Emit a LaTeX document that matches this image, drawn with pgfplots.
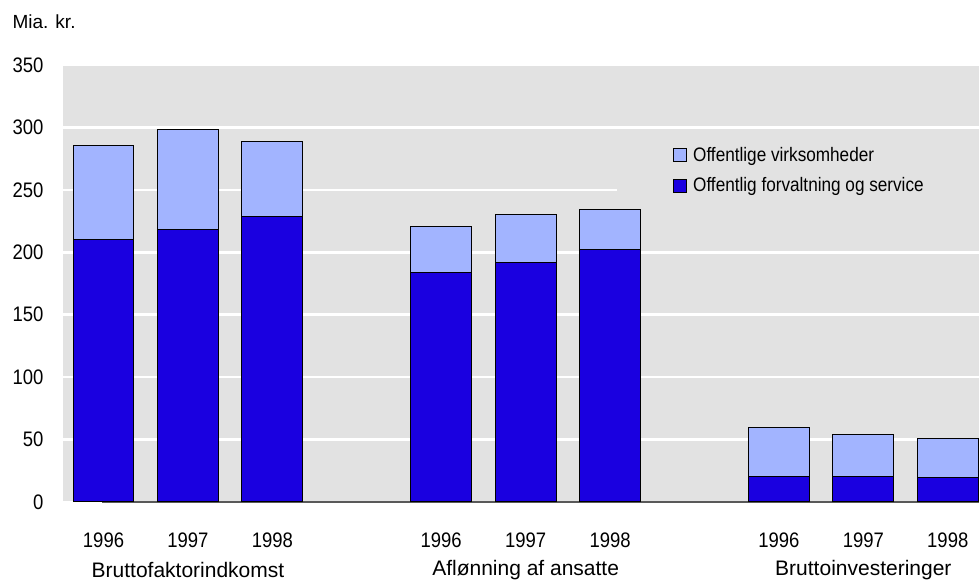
\documentclass[border=0pt]{standalone}
\usepackage{fontspec}
\setmainfont{Liberation Sans}
\newfontfamily\narrowfont{Liberation Sans}[FakeStretch=0.88]
\usepackage{pgfplots}
\usepackage{pgfplotstable}
\pgfplotsset{compat=1.18}
\definecolor{bgc}{HTML}{E2E2E2}
\definecolor{darkb}{HTML}{1A00E0}
\definecolor{lightb}{HTML}{A2B4FF}
\pgfplotstableread{
x dark light
0 210 75.5
1 218 80.5
2 228.5 60.5
4 184 37
5 191.5 39
6 202.5 31.5
8 20.5 39.5
9 20.5 33.5
10 19.5 31
}\data
\begin{document}
\begin{tikzpicture}
\useasboundingbox (0,0) rectangle (979pt,585pt);
\begin{axis}[
  at={(63pt,83pt)}, anchor=south west,
  scale only axis, width=916pt, height=437pt,
  clip=false,
  xmin=-0.48, xmax=10.37, ymin=0, ymax=350,
  ybar stacked, bar width=0.72,
  axis background/.style={fill=bgc},
  axis line style={draw=none},
  major tick length=0pt,
  ymajorgrids, grid style={white, line width=2.5pt},
  ytick={0,50,...,350},
  xtick={0,1,2,4,5,6,8,9,10},
  xticklabels={1996,1997,1998,1996,1997,1998,1996,1997,1998},
  tick label style={font=\narrowfont\fontsize{21}{25}\selectfont},
  /pgf/number format/assume math mode=true,
  yticklabel style={anchor=east, xshift=-16pt},
  xticklabel style={anchor=center, yshift=-38pt},
  legend style={at={(0.605,0.822)}, anchor=north west, fill=bgc, draw=none,
    font=\narrowfont\fontsize{19.5}{23}\selectfont, inner xsep=56pt, inner ysep=2pt,
    row sep=11pt, legend cell align=left,
    nodes={inner xsep=6pt}},
  reverse legend,
  legend image code/.code={\draw[#1, draw=black, line width=0.8pt] (0pt,-6.5pt) rectangle (13pt,6.5pt);},
]
\addplot[fill=darkb, draw=black, line width=1pt] table[x=x, y=dark] {\data};
\addlegendentry{Offentlig forvaltning og service}
\addplot[fill=lightb, draw=black, line width=1pt] table[x=x, y=light] {\data};
\addlegendentry{Offentlige virksomheder}
\draw[line width=1.2pt, black!65] (rel axis cs:0,0) ++(-2pt,0) -- (rel axis cs:1,0);
\node[font=\fontsize{21}{25}\selectfont] at (axis cs:1,0) [yshift=-68pt] {Bruttofaktorindkomst};
\node[font=\fontsize{21}{25}\selectfont] at (axis cs:5,0) [yshift=-68pt] {Aflønning af ansatte};
\node[font=\fontsize{21}{25}\selectfont] at (axis cs:9,0) [yshift=-68pt] {Bruttoinvesteringer};
\node[font=\fontsize{19}{23}\selectfont, anchor=west] at (rel axis cs:0,1) [xshift=-54pt, yshift=43pt] {Mia. kr.};
\end{axis}
\end{tikzpicture}
\end{document}
